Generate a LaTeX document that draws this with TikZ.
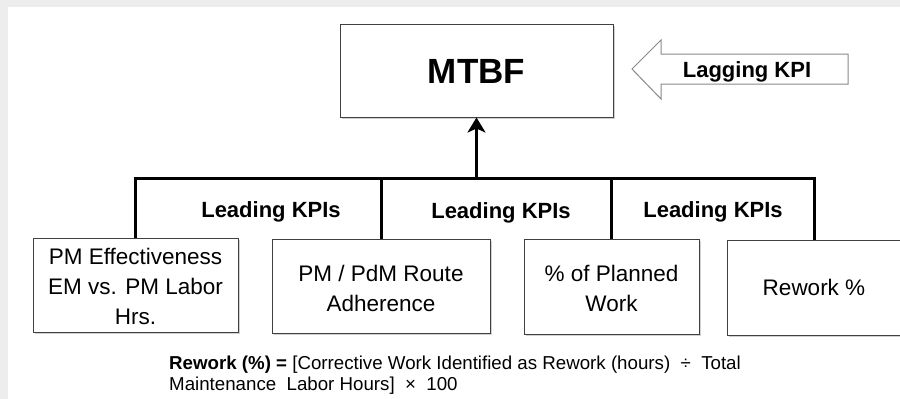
\documentclass[tikz,border=0pt]{standalone}
\usepackage{fontspec}
\setmainfont{Liberation Sans}
\usetikzlibrary{arrows.meta,shadows}

\definecolor{framegray}{HTML}{EDEDED}
\definecolor{boxgray}{HTML}{404040}
\definecolor{arrowgray}{HTML}{8A8A8A}

\begin{document}
\begin{tikzpicture}[x=1pt,y=-1pt,
  kpibox/.style={draw=boxgray, line width=1pt, fill=white, inner sep=0pt,
    drop shadow={shadow xshift=1.5pt, shadow yshift=-1.5pt, fill=black, opacity=0.18}},
  boxtext/.style={inner sep=0pt, align=center, font=\fontsize{22.5}{30}\selectfont},
  titletext/.style={inner sep=0pt, anchor=base, font=\fontsize{35}{40}\selectfont\bfseries},
  leadlabel/.style={inner sep=0pt, anchor=base, font=\fontsize{22}{26}\selectfont\bfseries},
  conn/.style={line width=3pt, black, line join=miter},
  lagarrow/.style={draw=arrowgray, line width=1pt, fill=white}]

\useasboundingbox (0,0) rectangle (900,399);

% page frame
\fill[framegray] (0,0) rectangle (900,399);
\fill[white] (8,7) rectangle (900,399);

% boxes
\node[kpibox, minimum width=273pt, minimum height=93pt] (mtbf) at (476.5,70.5) {};
\node[kpibox, minimum width=205pt, minimum height=94pt] (b1) at (135.5,285) {};
\node[kpibox, minimum width=218pt, minimum height=94pt] (b2) at (381,286) {};
\node[kpibox, minimum width=175pt, minimum height=95pt] (b3) at (611.5,286.5) {};
\node[kpibox, minimum width=174pt, minimum height=95pt] (b4) at (814,287.5) {};

% box texts
\node[titletext] (mtbftxt) at (476.5,83) {MTBF};
\node[boxtext] (t1) at (135.5,286) {PM Effectiveness\\EM vs. PM Labor\\Hrs.};
\node[boxtext] (t2) at (381,288) {PM / PdM Route\\Adherence};
\node[boxtext] (t3) at (611.5,288) {\% of Planned\\Work};
\node[boxtext] (t4) at (814,287) {Rework \%};

% lagging indicator arrow
\coordinate (lagtip) at (632,69);
\draw[lagarrow] (lagtip) -- (661,40) -- (661,54) -- (848,54) -- (848,84)
  -- (661,84) -- (661,99) -- cycle;
\node[leadlabel] (lag) at (747,77) {Lagging KPI};

% tree of leading indicators
\coordinate (bar) at (476.5,178);
\draw[conn] (b1.north) |- (bar) -| (b4.north);
\draw[conn] (b2.north) -- (b2.north |- bar);
\draw[conn] (b3.north) -- (b3.north |- bar);
\draw[conn, -{Stealth[length=15pt, width=18pt, inset=4pt]}] (bar) -- (mtbf.south);

\node[leadlabel] (lead1) at (271,217) {Leading KPIs};
\node[leadlabel] (lead2) at (501,218) {Leading KPIs};
\node[leadlabel] (lead3) at (713,217) {Leading KPIs};

% formula
\node[inner sep=0pt, anchor=north west, align=left,
  font=\fontsize{18.7}{21}\selectfont] (formula) at (169,355.5)
  {\textbf{Rework (\%) =} [Corrective Work Identified as Rework (hours) \ ÷\ \ Total\\
   Maintenance\ \ Labor Hours] \ ×\ \ 100};
\end{tikzpicture}
\end{document}
